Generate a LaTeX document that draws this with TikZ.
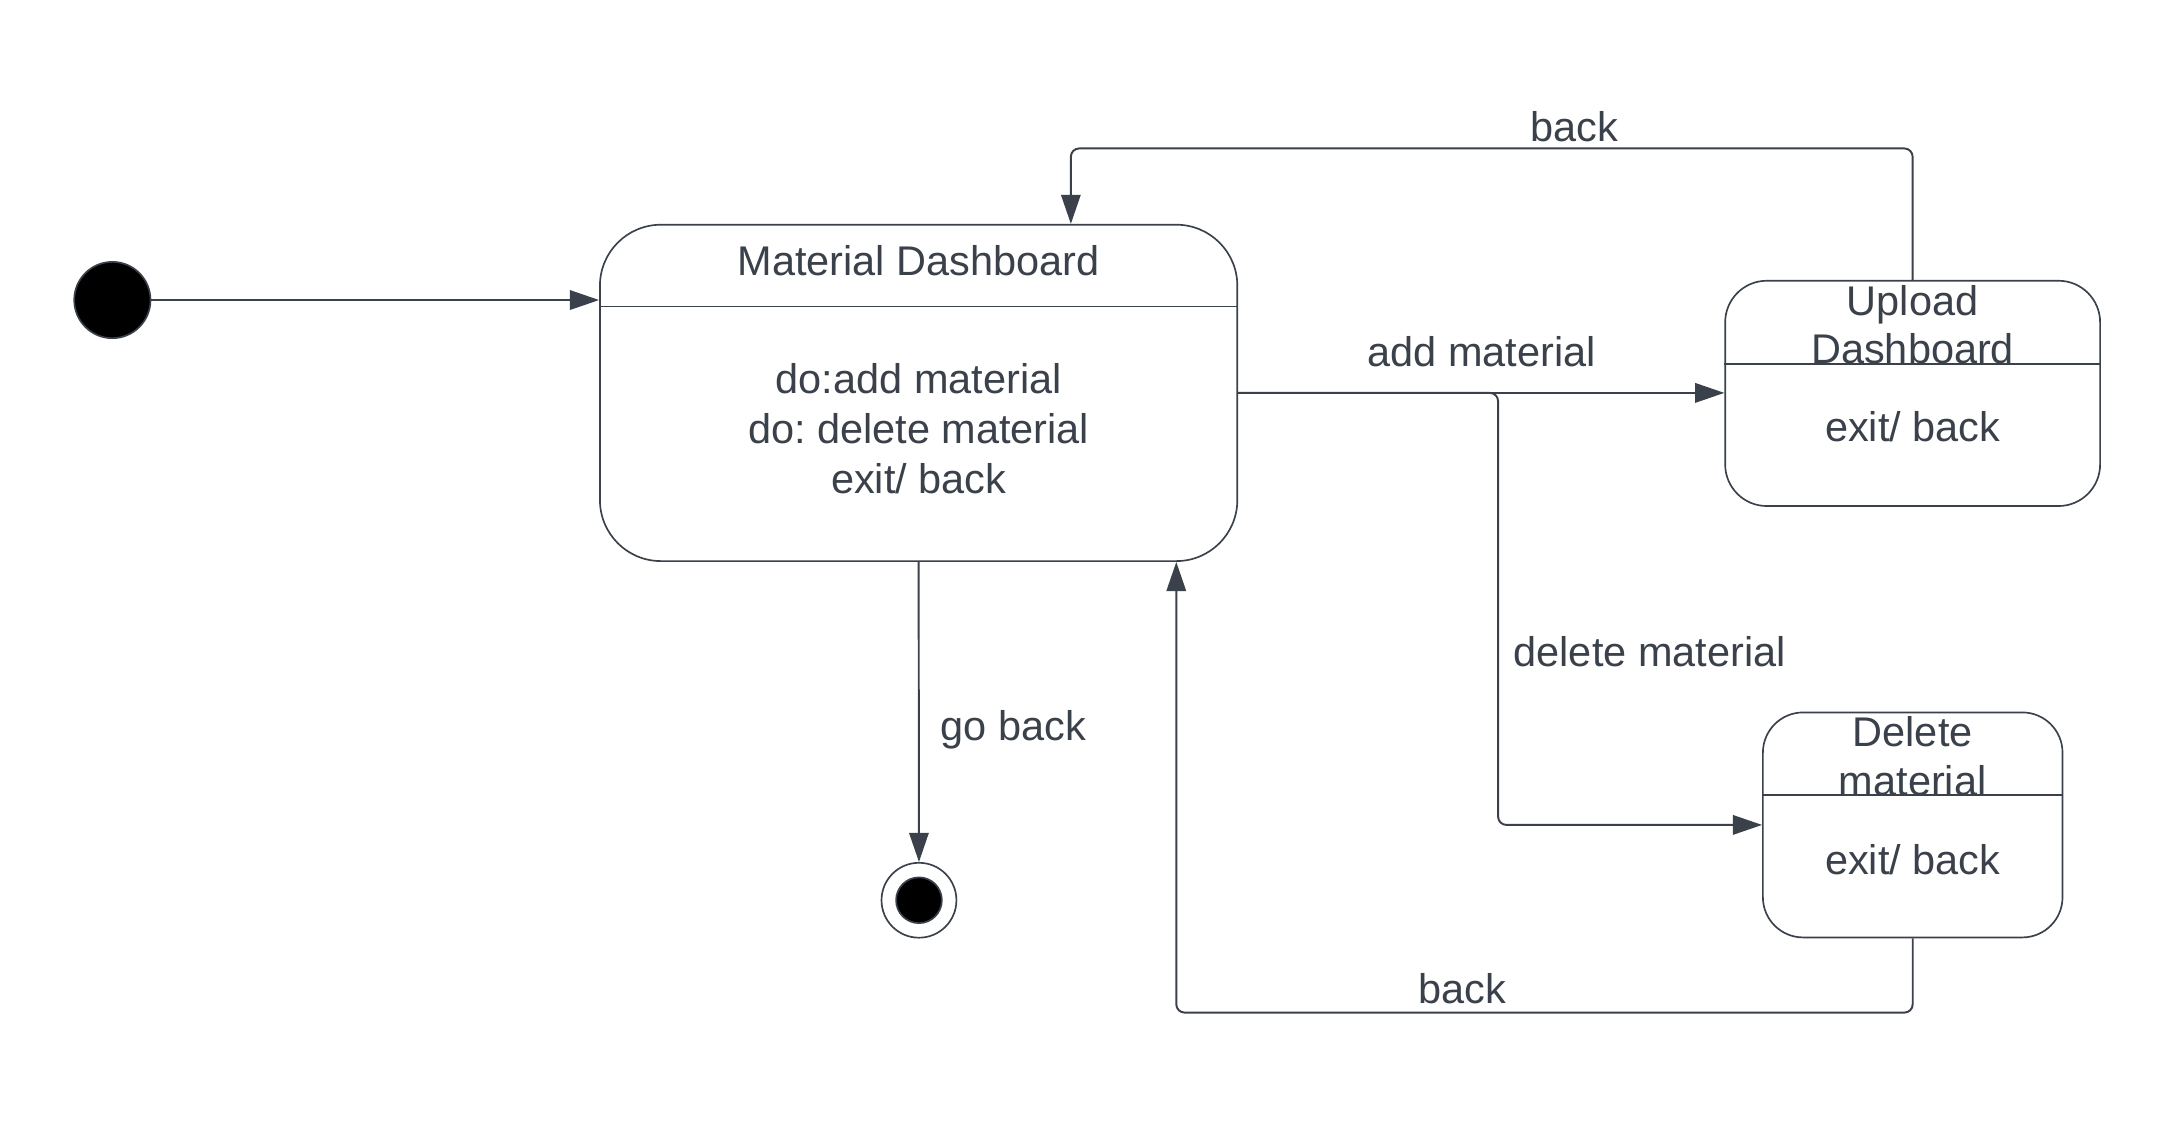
\documentclass[tikz,border=0pt]{standalone}
\usepackage{fontspec}
\setmainfont{Liberation Sans}
\usetikzlibrary{arrows.meta}
\definecolor{ink}{HTML}{3A414A}
\frenchspacing
\begin{document}
\begin{tikzpicture}[x=1pt,y=-1pt,
  statebox/.style={draw=ink, line width=1.2pt, rectangle, inner sep=0pt},
  divline/.style={draw=ink, line width=1.1pt},
  txt/.style={text=ink, inner sep=0pt, font=\fontsize{29.9}{35}\selectfont},
  conn/.style={draw=ink, line width=1.4pt, rounded corners=6pt, -{Triangle[length=21pt,width=14pt]}},
  initdot/.style={circle, fill=black, draw=ink, line width=1.2pt, inner sep=0pt}]
\fill[white] (0,0) rectangle (1568,811);
\useasboundingbox (0,0) rectangle (1568,811);

% states
\node[statebox, rounded corners=44pt, minimum width=459.5pt, minimum height=242.5pt] (md) at (662.25,283.25) {};
\node[statebox, rounded corners=30pt, minimum width=270.3pt, minimum height=162.4pt] (upl) at (1378.85,283.6) {};
\node[statebox, rounded corners=29pt, minimum width=216pt, minimum height=162.2pt] (del) at (1378.9,594.7) {};

% state texts
\node[txt, anchor=base] (mdt) at (662.25,198.5) {Material Dashboard};
\node[txt, anchor=base] (mdb1) at (662.25,283.6) {do:add material};
\node[txt, anchor=base] (mdb2) at (662.25,319.6) {do: delete material};
\node[txt, anchor=base] (mdb3) at (662.25,355.6) {exit/ back};

\node[txt, anchor=base] (uplt1) at (1378.85,227.6) {Upload};
\node[txt, anchor=base] (uplt2) at (1378.85,262.4) {Dashboard};
\node[txt, anchor=base] (uplb) at (1378.85,318.2) {exit/ back};

\node[txt, anchor=base] (delt1) at (1378.9,538.2) {Delete};
\node[txt, anchor=base] (delt2) at (1378.9,573.2) {material};
\node[txt, anchor=base] (delb) at (1378.9,630.6) {exit/ back};

\draw[divline] (md.west |- 0,221) -- (md.east |- 0,221);
\draw[divline] (upl.west |- 0,262.4) -- (upl.east |- 0,262.4);
\draw[divline] (del.west |- 0,573.2) -- (del.east |- 0,573.2);

% initial and final
\node[initdot, minimum size=55pt] (init) at (81,216.3) {};
\node[circle, draw=ink, fill=white, line width=1.2pt, inner sep=0pt, minimum size=54pt] (fin) at (662.5,649) {};
\node[initdot, minimum size=33pt] (fini) at (fin) {};

% connectors
\draw[conn] (init.east) -- (init.east -| md.west);
\draw[conn] (md.east) -- (md.east -| upl.west);
\coordinate (bx) at (1080,0);
\draw[conn] (md.east) -| (bx |- del.west) -- (del.west);
\coordinate (tl) at (772,107);
\draw[conn] (upl.north) |- (tl) -- (tl |- md.north);
\coordinate (bl) at (848,730);
\draw[conn] (del.south) |- (bl) -- (bl |- md.south);
\draw[conn] (md.south) -- (fin.north);

% labels
\node[txt, anchor=base] (lbtop) at (1135,102) {back};
\node[txt, anchor=base] (ladd) at (1068,264.5) {add material};
\node[txt, anchor=base west] (ldel) at (1091,480.5) {delete material};
\node[txt, anchor=base] (lbbot) at (1054,723.5) {back};
\node[txt, anchor=base west] (lgo) at (678,533.5) {go back};
\end{tikzpicture}
\end{document}
